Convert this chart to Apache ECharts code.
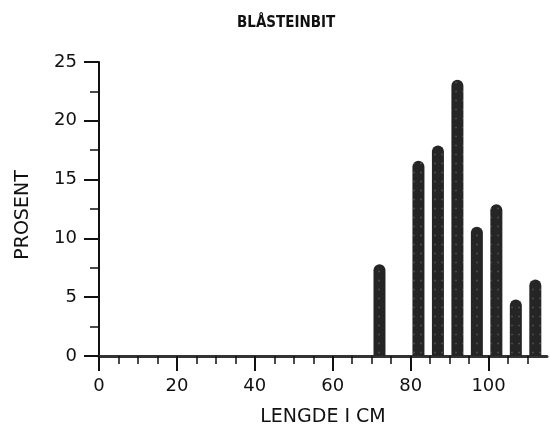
<!DOCTYPE html>
<html>
<head>
<meta charset="utf-8">
<script src="https://cdn.jsdelivr.net/npm/echarts@6/dist/echarts.min.js"></script>
<style>html,body{margin:0;padding:0;background:#fff}#c{width:550px;height:432px}</style>
</head>
<body>
<div id="c"></div>
<script>
const titleText = 'BLÅSTEINBIT';
const xName = 'LENGDE I CM';
const yName = 'PROSENT';
const lengths = [72, 82, 87, 92, 97, 102, 107, 112];
const percents = [7.8, 16.6, 17.9, 23.5, 11.0, 12.9, 4.8, 6.5];
const xMajorTicks = [0, 20, 40, 60, 80, 100];
const xMinorTicks = [5, 10, 15, 25, 30, 35, 45, 50, 55, 65, 70, 75, 85, 90, 95, 105, 110];

const ink = '#111';
const font = "'DejaVu Sans', sans-serif";
const chart = echarts.init(document.getElementById('c'), null, {renderer: 'canvas'});
chart.setOption({
  animation: false,
  backgroundColor: '#fff',
  title: {
    text: titleText, left: 232, top: 11,
    textStyle: {fontFamily: "'DejaVu Sans Condensed', sans-serif", fontSize: 15, fontWeight: 'bold', color: ink}
  },
  grid: {left: 99, right: 3, top: 62, bottom: 73, containLabel: false},
  xAxis: [{
    type: 'value', min: 0, max: 115,
    name: xName, nameLocation: 'middle', nameGap: 52,
    nameTextStyle: {fontFamily: font, fontSize: 19, color: ink},
    axisLine: {show: true, lineStyle: {color: '#333', width: 3}},
    axisTick: {show: true, customValues: xMajorTicks, length: 15, inside: false, lineStyle: {color: ink, width: 2}},
    axisLabel: {customValues: xMajorTicks, margin: 21, fontFamily: font, fontSize: 18, color: ink},
    splitLine: {show: false}
  }, {
    type: 'value', min: 0, max: 115, gridIndex: 0, position: 'bottom',
    axisLine: {show: false},
    axisTick: {show: true, customValues: xMinorTicks, length: 8, lineStyle: {color: ink, width: 1.5}},
    axisLabel: {show: false},
    splitLine: {show: false}
  }],
  yAxis: {
    type: 'value', min: 0, max: 25, interval: 5,
    name: yName, nameLocation: 'middle', nameGap: 66, nameRotate: 90,
    nameTextStyle: {fontFamily: font, fontSize: 19, color: ink, padding: [0, 12, 0, 0]},
    axisLine: {show: true, lineStyle: {color: ink, width: 2}},
    axisTick: {show: true, length: 15, lineStyle: {color: ink, width: 2}},
    minorTick: {show: true, splitNumber: 2, length: 9, lineStyle: {color: ink, width: 1.5}},
    axisLabel: {margin: 22, fontFamily: font, fontSize: 18, color: ink},
    splitLine: {show: false}
  },
  series: [{
    type: 'bar', xAxisIndex: 0,
    data: lengths.map((l, i) => [l, percents[i]]),
    barWidth: 12,
    itemStyle: {
      color: '#252525', borderRadius: [6, 6, 0, 0],
      decal: {symbol: 'rect', symbolSize: 0.5, color: 'rgba(255,255,255,0.35)', dashArrayX: [2, 5], dashArrayY: [3, 6], rotation: 0}
    }
  }]
});
</script>
</body>
</html>
